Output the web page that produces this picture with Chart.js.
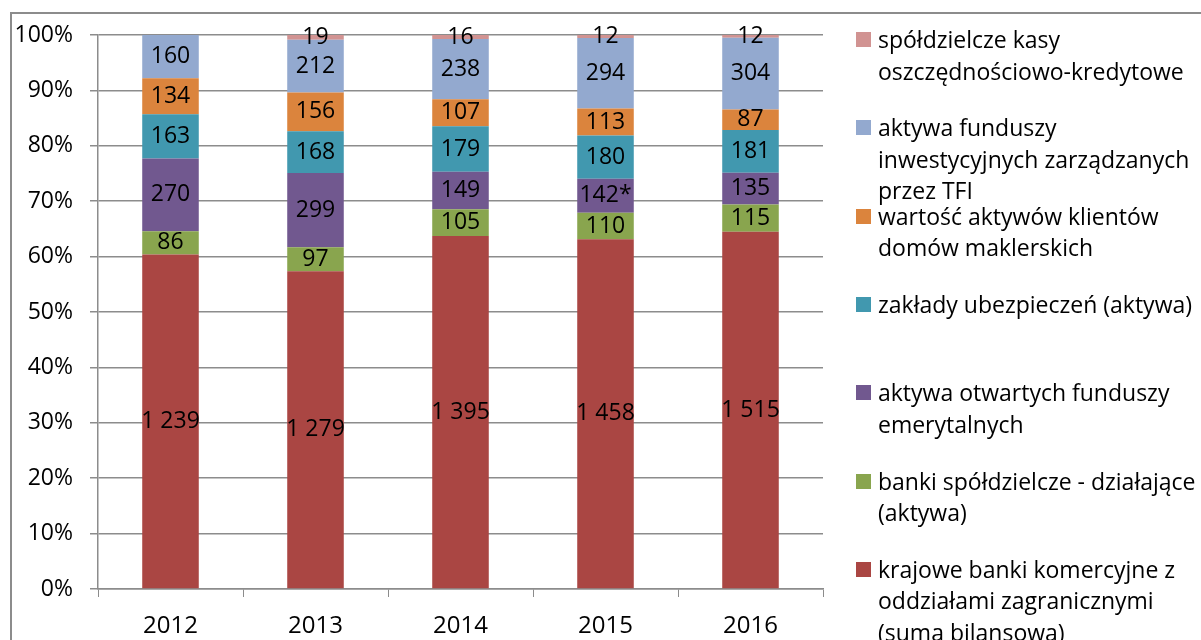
<!DOCTYPE html>
<html>
<head>
<meta charset="utf-8">
<script src="https://cdn.jsdelivr.net/npm/chart.js@4"></script>
<style>
  body { margin: 0; background: #fff; }
  #wrap { position: relative; width: 1201px; height: 640px; overflow: hidden; }
  #frame { position: absolute; left: 10px; top: 12px; width: 1300px; height: 700px; border: 2px solid #8c8c8c; box-sizing: border-box; }
  canvas { position: absolute; left: 0; top: 0; }
  .item { position: absolute; left: 856px; font-family: "Open Sans", sans-serif; font-size: 23px; line-height: 31.5px; color: #000; }
  .item span.box { position: absolute; left: 0; top: 8px; width: 15px; height: 15px; }
  .item div.txt { margin-left: 22px; white-space: nowrap; }
</style>
</head>
<body>
<div id="wrap">
  <div id="frame"></div>
  <canvas id="chart" width="1201" height="640"></canvas>
  <div id="legend"></div>
</div>
<script>
// Data (values in bn PLN), stacked bottom to top
const years = ["2012", "2013", "2014", "2015", "2016"];
const commercialBanks = [1239, 1279, 1395, 1458, 1515];
const coopBanks = [86, 97, 105, 110, 115];
const pensionFunds = [270, 299, 149, 142, 135];
const pensionNotes = ["", "", "", "*", ""];
const insurers = [163, 168, 179, 180, 181];
const brokerages = [134, 156, 107, 113, 87];
const investmentFunds = [160, 212, 238, 294, 304];
const creditUnions = [null, 19, 16, 12, 12];

const series = [
  { label: ["krajowe banki komercyjne z", "oddziałami zagranicznymi", "(suma bilansowa)"], values: commercialBanks, color: "#AA4643" },
  { label: ["banki spółdzielcze - działające", "(aktywa)"], values: coopBanks, color: "#89A54E" },
  { label: ["aktywa otwartych funduszy", "emerytalnych"], values: pensionFunds, color: "#71588F", notes: pensionNotes },
  { label: ["zakłady ubezpieczeń (aktywa)"], values: insurers, color: "#4198AF" },
  { label: ["wartość aktywów klientów", "domów maklerskich"], values: brokerages, color: "#DB843D" },
  { label: ["aktywa funduszy", "inwestycyjnych zarządzanych", "przez TFI"], values: investmentFunds, color: "#93A9CF" },
  { label: ["spółdzielcze kasy", "oszczędnościowo-kredytowe"], values: creditUnions, color: "#D19392" },
];

const totals = years.map((_, i) => series.reduce((s, d) => s + (d.values[i] || 0), 0));

function fmt(v) {
  return String(v).replace(/\B(?=(\d{3})+(?!\d))/g, " ");
}

const font = "Open Sans";

// Labels with raw values centred in each segment
const segmentLabels = {
  id: "segmentLabels",
  afterDatasetsDraw(chart) {
    const ctx = chart.ctx;
    ctx.save();
    ctx.font = "23px '" + font + "'";
    ctx.fillStyle = "#000";
    ctx.textAlign = "center";
    ctx.textBaseline = "middle";
    chart.data.datasets.forEach((ds, di) => {
      const meta = chart.getDatasetMeta(di);
      meta.data.forEach((bar, i) => {
        const raw = ds.rawValues[i];
        if (raw == null) return;
        const note = ds.notes ? ds.notes[i] : "";
        ctx.fillText(fmt(raw) + note, bar.x, (bar.y + bar.base) / 2);
      });
    });
    ctx.restore();
  },
};

const chart = new Chart(document.getElementById("chart").getContext("2d"), {
  type: "bar",
  data: {
    labels: years,
    datasets: series.map((s) => ({
      label: s.label.join(" "),
      data: s.values.map((v, i) => (v == null ? null : (v / totals[i]) * 100)),
      rawValues: s.values,
      notes: s.notes,
      backgroundColor: s.color,
      borderWidth: 0,
      barPercentage: 0.39,
      categoryPercentage: 1,
    })),
  },
  options: {
    responsive: false,
    animation: false,
    layout: { padding: { left: 10, top: 35, right: 378, bottom: 0 } },
    plugins: {
      legend: { display: false },
      tooltip: { enabled: false },
    },
    scales: {
      x: {
        stacked: true,
        afterFit: (s) => { s.height = 51; },
        grid: { drawOnChartArea: false, drawTicks: true, tickLength: 8, color: "#8c8c8c", offset: true },
        border: { color: "#8c8c8c", width: 1.5 },
        ticks: { color: "#000", padding: 15, font: { family: font, size: 24 } },
      },
      y: {
        stacked: true,
        min: 0,
        max: 100,
        afterFit: (s) => { s.width = 88; },
        grid: { color: "#8c8c8c", lineWidth: 1.5, tickLength: 8 },
        border: { color: "#8c8c8c", width: 1.5 },
        ticks: {
          stepSize: 10,
          color: "#000",
          padding: 17,
          font: { family: font, size: 23 },
          callback: (v) => v + "%",
        },
      },
    },
  },
  plugins: [segmentLabels],
});

// Legend (top entry = top of stack)
const legend = document.getElementById("legend");
series.slice().reverse().forEach((s, i) => {
  const item = document.createElement("div");
  item.className = "item";
  item.style.top = (24 + i * 88.3) + "px";
  item.innerHTML = '<span class="box" style="background:' + s.color + '"></span><div class="txt">' + s.label.join("<br>") + "</div>";
  legend.appendChild(item);
});
</script>
</body>
</html>
